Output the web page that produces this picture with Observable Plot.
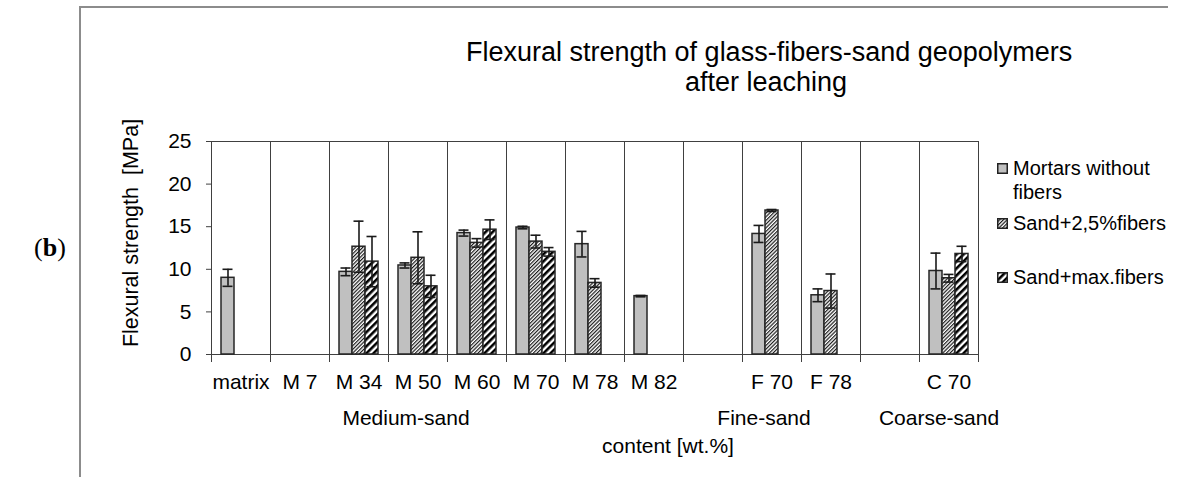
<!DOCTYPE html>
<html>
<head>
<meta charset="utf-8">
<script src="https://cdn.jsdelivr.net/npm/d3@7"></script>
<script src="https://cdn.jsdelivr.net/npm/@observablehq/plot@0.6"></script>
<style>
  body { margin: 0; background: #fff; }
  #wrap { position: relative; width: 1179px; height: 477px; font-family: 'Liberation Sans', Arial, sans-serif; color: #000; overflow: hidden; }
  .abs { position: absolute; white-space: nowrap; }
</style>
</head>
<body>
<div id="wrap">
  <div id="chart" class="abs" style="left:0;top:0"></div>
  <div class="abs" style="left:79px;top:7px;width:2px;height:470px;background:#8c8c8c"></div>
  <div class="abs" style="left:79px;top:6px;width:1089px;height:2px;background:#8c8c8c"></div>
  <div class="abs" style="left:34px;top:248px;transform:translateY(-50%);font-family:'Liberation Serif','DejaVu Serif',serif;font-size:26px;line-height:30px">(<b>b</b>)</div>
  <div class="abs" style="left:466px;top:37px;width:600px;text-align:center;font-size:27px;line-height:30px">Flexural strength of glass-fibers-sand geopolymers<br>after leaching</div>
  <div class="abs" style="left:131px;top:233px;transform:translate(-50%,-50%) rotate(-90deg);font-size:21.5px;line-height:24px">Flexural strength&nbsp; [MPa]</div>
  <div class="abs" style="left:406px;top:418px;transform:translate(-50%,-50%);font-size:21px">Medium-sand</div>
  <div class="abs" style="left:764px;top:418px;transform:translate(-50%,-50%);font-size:21px">Fine-sand</div>
  <div class="abs" style="left:939px;top:418px;transform:translate(-50%,-50%);font-size:21px">Coarse-sand</div>
  <div class="abs" style="left:668px;top:446px;transform:translate(-50%,-50%);font-size:21px">content [wt.%]</div>
  <div id="legend"></div>
</div>
<script>
// ---- data ----
const categories = ["matrix", "M 7", "M 34", "M 50", "M 60", "M 70", "M 78", "M 82", " ", "F 70", "F 78", "  ", "C 70"];
const series = ["Mortars without fibers", "Sand+2,5%fibers", "Sand+max.fibers"];
const mortarsMean = [9.0, null, 9.7, 10.45, 14.25, 14.9, 12.95, 6.85, null, 14.15, 6.95, null, 9.8];
const mortarsErr  = [1.0, null, 0.45, 0.3, 0.35, 0.15, 1.5, 0.08, null, 1.0, 0.75, null, 2.1];
const fib25Mean   = [null, null, 12.65, 11.35, 13.1, 13.25, 8.4, null, null, 16.9, 7.45, null, 8.95];
const fib25Err    = [null, null, 3.0, 3.05, 0.5, 0.75, 0.5, null, null, 0.12, 2.0, null, 0.45];
const fibMaxMean  = [null, null, 10.9, 8.0, 14.65, 12.05, null, null, null, null, null, null, 11.8];
const fibMaxErr   = [null, null, 2.95, 1.3, 1.15, 0.5, null, null, null, null, null, null, 0.9];
const yTicks = [0, 5, 10, 15, 20, 25];

const seriesData = [[mortarsMean, mortarsErr], [fib25Mean, fib25Err], [fibMaxMean, fibMaxErr]];
const rows = [];
categories.forEach((c, i) => {
  seriesData.forEach(([m, e], j) => {
    if (m[i] != null) rows.push({cat: c, series: series[j], value: m[i], err: e[i]});
  });
});
const fills = {};
fills[series[0]] = "#c0c0c0";
fills[series[1]] = "url(#hatchFine)";
fills[series[2]] = "url(#hatchBold)";

const lineColor = "#404040";
const plot = Plot.plot({
  width: 1179, height: 477,
  marginLeft: 205, marginRight: 196, marginTop: 141, marginBottom: 123,
  style: {fontFamily: "'Liberation Sans', Arial, sans-serif", fontSize: "21px", color: "#000", background: "transparent", overflow: "visible"},
  fx: {domain: categories, padding: 0, label: null},
  x: {domain: series, paddingInner: 0, paddingOuter: 0.7, axis: null},
  y: {domain: [0, 25], axis: null},
  color: {type: "identity"},
  marks: [
    Plot.ruleY(categories, {fx: d => d, y: 0, stroke: lineColor}),
    Plot.frame({stroke: lineColor}),
    Plot.frame({anchor: "left", insetBottom: -7, stroke: lineColor}),
    Plot.frame({anchor: "right", insetBottom: -7, stroke: lineColor}),
    Plot.barY(rows, {fx: "cat", x: "series", y: "value", fill: d => fills[d.series], stroke: "#262626", strokeWidth: 1.5}),
    Plot.ruleX(rows, {fx: "cat", x: "series", y1: d => d.value - d.err, y2: d => d.value + d.err, stroke: "#1a1a1a", strokeWidth: 1.6}),
    Plot.tickY(rows, {fx: "cat", x: "series", y: d => d.value + d.err, insetLeft: 1.5, insetRight: 1.5, stroke: "#1a1a1a", strokeWidth: 1.6}),
    Plot.tickY(rows, {fx: "cat", x: "series", y: d => d.value - d.err, insetLeft: 1.5, insetRight: 1.5, stroke: "#1a1a1a", strokeWidth: 1.6}),
    Plot.axisY({ticks: yTicks, tickSize: 5, tickPadding: 15, label: null, fontSize: 21, stroke: lineColor}),
    Plot.axisFx({anchor: "bottom", tickSize: 0, tickPadding: 20, label: null, fontSize: 21})
  ]
});

// patterns
const defs = d3.select(plot).insert("defs", ":first-child");
const p1 = defs.append("pattern").attr("id", "hatchFine").attr("patternUnits", "userSpaceOnUse")
  .attr("width", 2.6).attr("height", 2.6).attr("patternTransform", "rotate(45)");
p1.append("rect").attr("width", 2.6).attr("height", 2.6).attr("fill", "#fff");
p1.append("line").attr("x1", 0.6).attr("y1", 0).attr("x2", 0.6).attr("y2", 2.6).attr("stroke", "#1a1a1a").attr("stroke-width", 1.2);
const p2 = defs.append("pattern").attr("id", "hatchBold").attr("patternUnits", "userSpaceOnUse")
  .attr("width", 5).attr("height", 5).attr("patternTransform", "rotate(45)");
p2.append("rect").attr("width", 5).attr("height", 5).attr("fill", "#fff");
p2.append("rect").attr("width", 2.6).attr("height", 5).attr("fill", "#000");
document.getElementById("chart").appendChild(plot);

// legend
const legendItems = [
  {label: ["Mortars without", "fibers"], top: 156},
  {label: ["Sand+2,5%fibers"], top: 211},
  {label: ["Sand+max.fibers"], top: 265}
];
const lg = d3.select("#legend");
legendItems.forEach((it, i) => {
  const s = lg.append("svg").attr("class", "abs").attr("width", 11).attr("height", 11)
    .style("left", "997px").style("top", (it.top + 7) + "px");
  s.append("rect").attr("x", 0.75).attr("y", 0.75).attr("width", 9.5).attr("height", 9.5)
    .attr("fill", fills[series[i]]).attr("stroke", "#222").attr("stroke-width", 1.5);
  lg.append("div").attr("class", "abs")
    .style("left", "1013px").style("top", it.top + "px")
    .style("font-size", "20px").style("line-height", "24px")
    .html(it.label.join("<br>"));
});
</script>
</body>
</html>
